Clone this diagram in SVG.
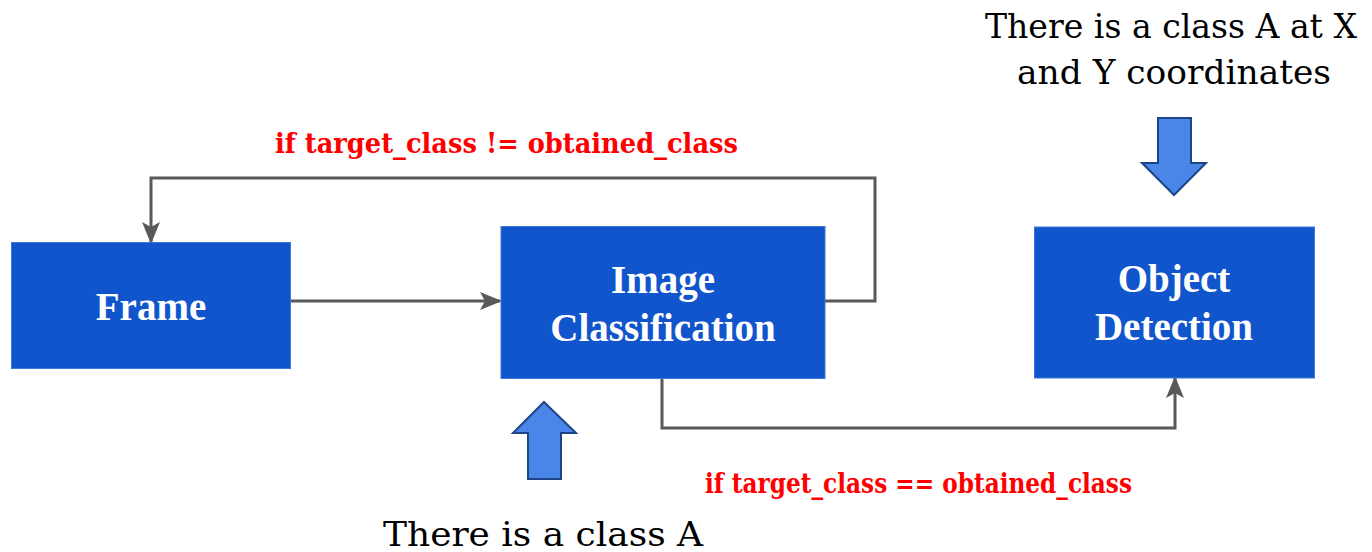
<svg xmlns="http://www.w3.org/2000/svg" width="1372" height="552" viewBox="0 0 1372 552">
<style>
.box{fill:#1155cc;stroke:#3c78d8;stroke-width:1}
.bt{font-family:"Liberation Serif","Times New Roman",serif;font-weight:bold;font-size:39px;fill:#ffffff;text-anchor:middle}
.conn{fill:none;stroke:#595959;stroke-width:3}
.cond{font-family:"DejaVu Serif","Liberation Serif",serif;font-weight:bold;font-size:27px;fill:#ff0000}
.cap{font-family:"DejaVu Serif","Liberation Serif",serif;font-size:34px;fill:#000000}
.blk{fill:#4a86e8;stroke:#1c4587;stroke-width:2;stroke-linejoin:miter}
</style>
<defs>
<marker id="ah2" markerWidth="22" markerHeight="20" refX="20" refY="10" orient="auto" markerUnits="userSpaceOnUse" viewBox="0 0 22 20">
<path d="M0,1 L22,10 L0,19 L5,10 Z" fill="#595959"/>
</marker>
</defs>
<g id="connectors">
<path class="conn" d="M290,301 L500,301" marker-end="url(#ah2)"/>
<path class="conn" d="M825,301 L875,301 L875,178 L151,178 L151,242" marker-end="url(#ah2)"/>
<path class="conn" d="M662,378 L662,428 L1175,428 L1175,378" marker-end="url(#ah2)"/>
</g>
<g id="node-frame">
<rect class="box" x="11.5" y="242.5" width="279" height="126"/>
<text class="bt" x="151" y="320">Frame</text>
</g>
<g id="node-image-classification">
<rect class="box" x="501" y="226.5" width="324" height="152"/>
<text class="bt" x="663" y="293">Image</text>
<text class="bt" x="663" y="341">Classification</text>
</g>
<g id="node-object-detection">
<rect class="box" x="1034.5" y="227" width="280" height="151"/>
<text class="bt" x="1174" y="292">Object</text>
<text class="bt" x="1174" y="340">Detection</text>
</g>
<g id="label-neq">
<text class="cond" x="275" y="153" textLength="463" lengthAdjust="spacingAndGlyphs">if target_class != obtained_class</text>
</g>
<g id="label-eq">
<text class="cond" x="705" y="493" textLength="427" lengthAdjust="spacingAndGlyphs">if target_class == obtained_class</text>
</g>
<g id="arrow-up">
<path class="blk" d="M544,402 L576,433 L561,433 L561,479 L528,479 L528,433 L513,433 Z"/>
</g>
<g id="arrow-down">
<path class="blk" d="M1158,118 L1191,118 L1191,163 L1206,163 L1174,195 L1142,163 L1158,163 Z"/>
</g>
<g id="caption-bottom">
<text class="cap" x="383" y="546" textLength="320" lengthAdjust="spacingAndGlyphs">There is a class A</text>
</g>
<g id="caption-top">
<text class="cap" x="985" y="38" textLength="372" lengthAdjust="spacingAndGlyphs">There is a class A at X</text>
<text class="cap" x="1017" y="84" textLength="314" lengthAdjust="spacingAndGlyphs">and Y coordinates</text>
</g>
</svg>
